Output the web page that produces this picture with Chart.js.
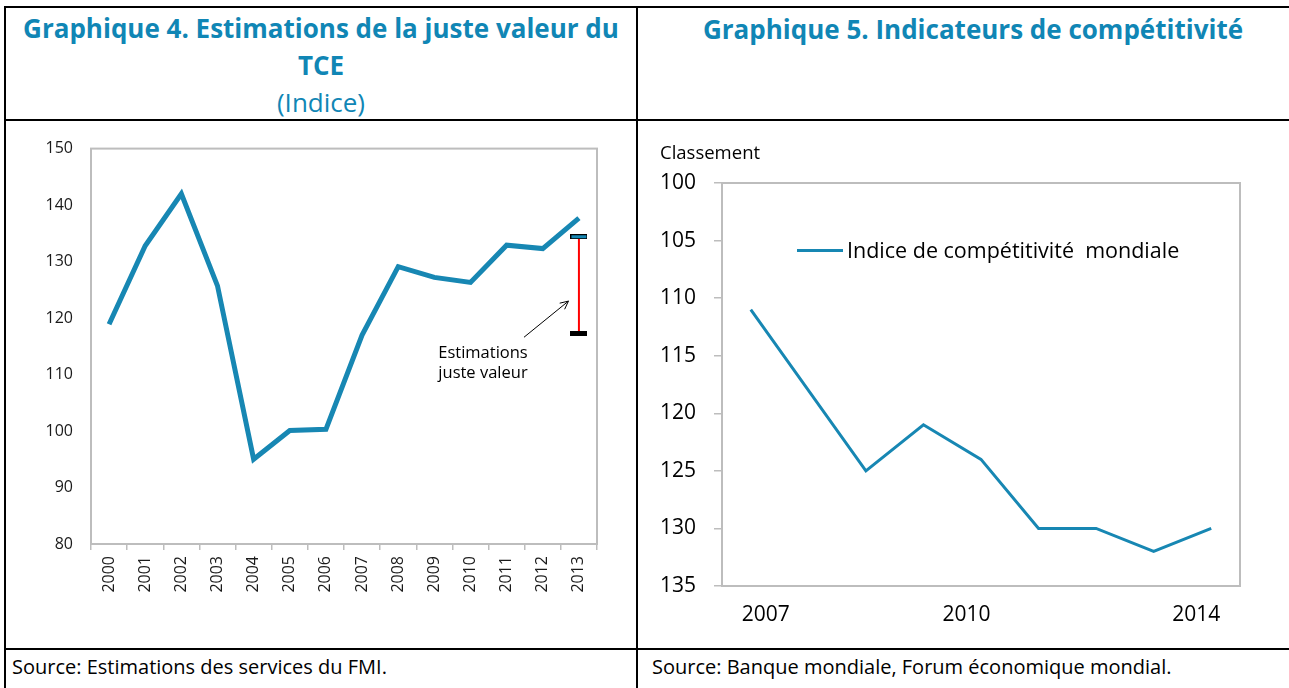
<!DOCTYPE html>
<html>
<head>
<meta charset="utf-8">
<script src="https://cdn.jsdelivr.net/npm/chart.js@4.4.0/dist/chart.umd.min.js"></script>
<style>
  body { margin: 0; background: #fff; font-family: 'Open Sans', sans-serif; }
  #page { position: relative; width: 1289px; height: 688px; overflow: hidden; }
  .rule { position: absolute; background: #000; }
  .title { position: absolute; color: #1086b5; font-weight: bold; font-size: 26px; line-height: 37px; text-align: center; white-space: nowrap; }
  .sub { font-weight: normal; }
  .src { position: absolute; font-size: 20px; color: #000; white-space: nowrap; line-height: 24px; }
  canvas { position: absolute; }
  .note { position: absolute; font-size: 16.5px; line-height: 20px; color: #000; text-align: center; white-space: nowrap; }
</style>
</head>
<body>
<div id="page">
  <!-- table rules -->
  <div class="rule" style="left:4px;top:6px;width:1285px;height:2px"></div>
  <div class="rule" style="left:4px;top:119px;width:1285px;height:2px"></div>
  <div class="rule" style="left:4px;top:648px;width:1285px;height:2px"></div>
  <div class="rule" style="left:4px;top:6px;width:2px;height:682px"></div>
  <div class="rule" style="left:636px;top:6px;width:2px;height:682px"></div>

  <div class="title" style="left:6px;top:10px;width:630px">Graphique 4. Estimations de la juste valeur du<br>TCE<br><span class="sub">(Indice)</span></div>
  <div class="title" style="left:700px;top:11px;width:546px">Graphique 5. Indicateurs de compétitivité</div>

  <canvas id="tce" width="630" height="527" style="left:6px;top:121px"></canvas>
  <canvas id="gci" width="651" height="527" style="left:638px;top:121px"></canvas>

  <div class="note" style="left:423px;top:342px;width:120px">Estimations<br>juste valeur</div>

  <div class="note" style="left:660px;top:140px;font-size:18.5px;line-height:24px;text-align:left">Classement</div>
  <div style="position:absolute;left:797px;top:249px;width:46px;height:3px;background:#1787b3"></div>
  <div class="note" style="left:847px;top:236px;font-size:21.5px;line-height:28px;text-align:left;white-space:pre">Indice de compétitivité  mondiale</div>

  <div class="src" style="left:12px;top:655px">Source: Estimations des services du FMI.</div>
  <div class="src" style="left:652px;top:655px">Source: Banque mondiale, Forum économique mondial.</div>
</div>

<script>
// Graphique 4 data
const years = ['2000','2001','2002','2003','2004','2005','2006','2007','2008','2009','2010','2011','2012','2013'];
const tceIndex = [118.9, 132.8, 142.0, 125.7, 95.0, 100.1, 100.3, 117.0, 129.1, 127.2, 126.3, 132.9, 132.3, 137.7];
const fairValueHigh = 134.4;
const fairValueLow = 117.2;
const arrowFrom = [11.48, 116.6];
const arrowTo = [12.71, 123.0];

// Graphique 5 data
const gciRank = [111, null, 125, 121, 124, 130, 130, 132, 130];
const gciTickPos = [0.26, 3.75, 7.74];
const gciTickLabels = ['2007', '2010', '2014'];

const blue = '#1787b3';
const frameGray = '#bdbdbd';

Chart.defaults.font.family = "'Open Sans', sans-serif";
Chart.defaults.color = '#1a1a1a';

// gray box around the plot area
const framePlugin = {
  id: 'frame',
  beforeDatasetsDraw(chart) {
    const a = chart.chartArea, ctx = chart.ctx;
    ctx.save();
    ctx.strokeStyle = frameGray;
    ctx.lineWidth = 2;
    ctx.strokeRect(a.left, a.top, a.right - a.left, a.bottom - a.top);
    ctx.restore();
  }
};

// arrow pointing at the fair value range
const arrowPlugin = {
  id: 'arrow',
  afterDatasetsDraw(chart) {
    const x = chart.scales.x, y = chart.scales.y, ctx = chart.ctx;
    const x1 = x.getPixelForValue(arrowFrom[0]), y1 = y.getPixelForValue(arrowFrom[1]);
    const x2 = x.getPixelForValue(arrowTo[0]), y2 = y.getPixelForValue(arrowTo[1]);
    const ang = Math.atan2(y2 - y1, x2 - x1);
    ctx.save();
    ctx.strokeStyle = '#000';
    ctx.lineWidth = 1;
    ctx.beginPath();
    ctx.moveTo(x1, y1);
    ctx.lineTo(x2, y2);
    ctx.moveTo(x2 - 9 * Math.cos(ang - 0.45), y2 - 9 * Math.sin(ang - 0.45));
    ctx.lineTo(x2, y2);
    ctx.lineTo(x2 - 9 * Math.cos(ang + 0.45), y2 - 9 * Math.sin(ang + 0.45));
    ctx.stroke();
    ctx.restore();
  }
};

function capMarker(fill) {
  const c = document.createElement('canvas');
  c.width = 17; c.height = 5;
  const g = c.getContext('2d');
  g.fillStyle = '#000';
  g.fillRect(0, 0, 17, 5);
  g.fillStyle = fill;
  g.fillRect(1, 1, 15, 3);
  return c;
}

new Chart(document.getElementById('tce'), {
  type: 'line',
  data: {
    labels: years,
    datasets: [{
      data: tceIndex,
      borderColor: blue,
      borderWidth: 5,
      pointRadius: 0,
      tension: 0
    }, {
      data: [{ x: '2013', y: fairValueHigh }, { x: '2013', y: fairValueLow }],
      borderColor: '#ff0000',
      borderWidth: 2,
      pointRadius: 3,
      pointStyle: [capMarker(blue), capMarker('#000')]
    }]
  },
  options: {
    responsive: false,
    animation: false,
    events: [],
    layout: { padding: { left: 0, right: 39, top: 27, bottom: 54 } },
    plugins: { legend: { display: false }, tooltip: { enabled: false } },
    scales: {
      x: {
        offset: true,
        border: { display: false },
        grid: { display: true, drawOnChartArea: false, drawTicks: true, tickLength: 6, offset: true, color: frameGray, lineWidth: 1.5 },
        ticks: { minRotation: 90, maxRotation: 90, autoSkip: false, padding: 6, font: { size: 16 }, color: '#1a1a1a' },
        afterFit: s => { s.height = 50; }
      },
      y: {
        min: 80, max: 150,
        border: { display: false },
        grid: { display: true, drawOnChartArea: false, drawTicks: false },
        ticks: { stepSize: 10, padding: 18, font: { size: 16 }, color: '#1a1a1a' },
        afterFit: s => { s.width = 85; }
      }
    }
  },
  plugins: [framePlugin, arrowPlugin]
});

new Chart(document.getElementById('gci'), {
  type: 'line',
  data: {
    datasets: [{
      data: gciRank.map((v, i) => ({ x: i, y: v })),
      borderColor: blue,
      borderWidth: 3,
      pointRadius: 0,
      spanGaps: true,
      tension: 0
    }]
  },
  options: {
    responsive: false,
    animation: false,
    events: [],
    layout: { padding: { left: 0, right: 49, top: 62, bottom: 22 } },
    plugins: { legend: { display: false }, tooltip: { enabled: false } },
    scales: {
      x: {
        type: 'linear',
        min: -0.5, max: 8.5,
        border: { display: false },
        grid: { display: false },
        afterBuildTicks: axis => { axis.ticks = gciTickPos.map(v => ({ value: v })); },
        ticks: { autoSkip: false, maxRotation: 0, padding: 8, font: { size: 21 }, color: '#000',
                 callback: (v, i) => gciTickLabels[i] },
        afterFit: s => { s.height = 40; }
      },
      y: {
        reverse: true,
        min: 100, max: 135,
        border: { display: false },
        grid: { display: true, drawOnChartArea: false, drawTicks: true, tickLength: 8, color: frameGray, lineWidth: 1.5 },
        ticks: { stepSize: 5, padding: 18, font: { size: 21 }, color: '#000' },
        afterFit: s => { s.width = 84; }
      }
    }
  },
  plugins: [framePlugin]
});
</script>
</body>
</html>
